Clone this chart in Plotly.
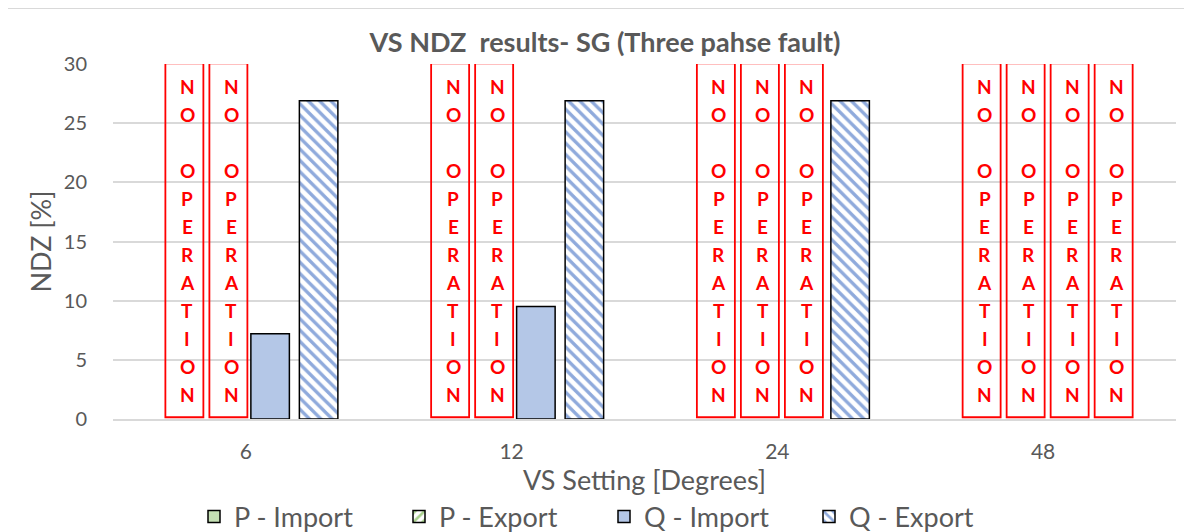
import plotly.graph_objects as go

# ---------------- data ----------------
categories = ["6", "12", "24", "48"]
series_names = ["P - Import", "P - Export", "Q - Import", "Q - Export"]
p_import = [None, None, None, None]
p_export = [None, None, None, None]
q_import = [7.2, 9.5, None, None]
q_export = [26.9, 26.9, 26.9, None]
no_op_label = "NO OPERATION"
y_ticks = [0, 5, 10, 15, 20, 25, 30]

title_text = "VS NDZ  results- SG (Three pahse fault)"
x_title = "VS Setting [Degrees]"
y_title = "NDZ [%]"

# ---------------- styles ----------------
FONT = "Lato"
GRAY = "#595959"
GRID = "#d9d9d9"
RED = "#ff0000"

W, H = 1192, 532
OFF = 8  # page body margin
PL, PT, PR, PB = 113, 64, 1176, 419  # plot area in screen pixels
PW, PH = PR - PL, PB - PT

series = [p_import, p_export, q_import, q_export]
fills = ["#c5e0b4", "white", "#b4c7e7", "white"]
patterns = [None, "/", None, "\\"]
pattern_fg = [None, "#a9d18e", None, "#8faadc"]

x_idx = list(range(len(categories)))

fig = go.Figure()
for name, vals, fc, pat, pfg in zip(series_names, series, fills, patterns, pattern_fg):
    marker = dict(color=fc, line=dict(color="black", width=1.5))
    if pat:
        marker["pattern"] = dict(shape=pat, fgcolor=pfg, bgcolor="white",
                                 size=8, solidity=0.42, fillmode="replace")
    fig.add_trace(go.Bar(x=x_idx, y=vals, name=name, marker=marker))

# "NO OPERATION" boxes for missing values
box_step = 0.1656
box_shift = 0.017
box_w = 0.143
shapes = []
annotations = []
letters = list(no_op_label)
line_top = 28.06
line_pitch = 2.36
for i in x_idx:
    for k, vals in enumerate(series):
        if vals[i] is None:
            cx = i + (k - 1.5) * box_step + box_shift
            shapes.append(dict(type="rect", xref="x", yref="y",
                               x0=cx - box_w / 2, x1=cx + box_w / 2, y0=0.15, y1=30.05,
                               line=dict(color=RED, width=1.8), fillcolor="rgba(0,0,0,0)",
                               layer="above"))
            for j, ch in enumerate(letters):
                if ch.strip() == "":
                    continue
                annotations.append(dict(x=cx, y=line_top - j * line_pitch, xref="x", yref="y",
                                        text=f"<b>{ch}</b>", showarrow=False, xshift=3,
                                        font=dict(family=FONT, size=19, color=RED),
                                        xanchor="center", yanchor="middle"))

# outer chart border (Excel chart area)
shapes.append(dict(type="rect", xref="paper", yref="paper",
                   x0=(7 - PL) / PW, x1=(1215 - PL) / PW,
                   y0=(PB - 560) / PH, y1=(PB - 8) / PH,
                   line=dict(color=GRID, width=2), fillcolor="rgba(0,0,0,0)", layer="below"))

fig.update_layout(
    width=W, height=H,
    margin=dict(l=PL - OFF, r=W + OFF - PR, t=PT - OFF, b=H + OFF - PB, autoexpand=False),
    paper_bgcolor="white", plot_bgcolor="white",
    barmode="group", bargap=0.27, bargroupgap=0.206,
    title=dict(text=f"<b>{title_text}</b>", x=(605 - OFF) / W, xanchor="center",
               y=1 - (43 - OFF) / H, yanchor="middle",
               font=dict(family=FONT, size=27, color=GRAY)),
    font=dict(family=FONT, color=GRAY),
    shapes=shapes,
    annotations=annotations,
    showlegend=True,
    legend=dict(orientation="h", x=(604 - PL) / PW, xanchor="center",
                y=(PB - 517) / PH, yanchor="middle",
                font=dict(family=FONT, size=27, color=GRAY),
                entrywidth=160, entrywidthmode="pixels", traceorder="normal"),
)

fig.update_xaxes(
    range=[-0.5, len(categories) - 0.5],
    tickvals=x_idx, ticktext=categories,
    tickfont=dict(family=FONT, size=21, color=GRAY),
    ticks="outside", ticklen=13, tickcolor="rgba(0,0,0,0)",
    showgrid=False, zeroline=False,
    showline=True, linecolor=GRID, linewidth=1.5,
    title=dict(text=x_title, font=dict(family=FONT, size=27, color=GRAY), standoff=8),
)
fig.update_yaxes(
    range=[0, 30], tickvals=y_ticks,
    tickfont=dict(family=FONT, size=20, color=GRAY),
    ticks="outside", ticklen=21, tickcolor="rgba(0,0,0,0)",
    showgrid=True, gridcolor=GRID, gridwidth=1.5,
    zeroline=False, showline=False,
    title=dict(text=y_title, font=dict(family=FONT, size=27, color=GRAY), standoff=4),
)

fig.write_html("out.html")
